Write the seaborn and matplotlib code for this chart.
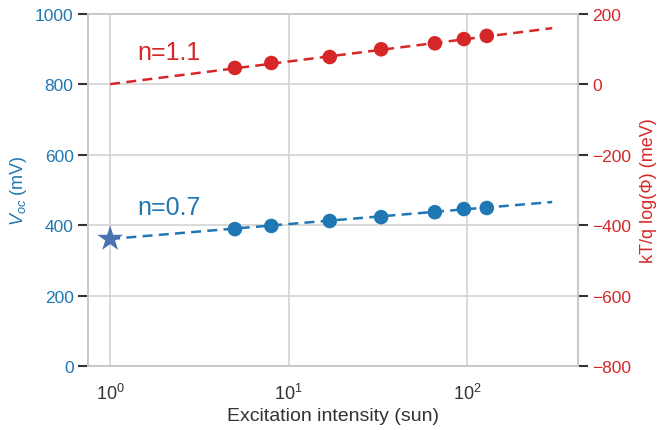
import matplotlib
matplotlib.use("Agg")
import matplotlib.pyplot as plt
import pandas as pd
import seaborn as sns

# --------------------------------------------------
# data
# --------------------------------------------------
intensity = [5, 8, 17, 33, 66, 96, 129]          # sun
voc = [389, 398, 412, 423, 437, 446, 449]         # mV
kt_log_phi = [47, 61, 78, 100, 117, 129, 138]     # meV

one_sun_x = [1]
one_sun_voc = [361]

fit_x = [1, 300]
voc_fit = [361, 466]
phi_fit = [1, 160]

BLUE = "#1f77b4"
RED = "#d62728"
STAR = "#4c72b0"

sns.set_theme(style="whitegrid")
plt.rcParams["font.family"] = ["Liberation Sans", "DejaVu Sans"]
plt.rcParams["mathtext.fontset"] = "custom"
plt.rcParams["mathtext.rm"] = "Liberation Sans"
plt.rcParams["mathtext.it"] = "Liberation Sans:italic"

pts = pd.DataFrame({"x": intensity, "voc": voc, "phi": kt_log_phi})
fit = pd.DataFrame({"x": fit_x, "voc": voc_fit, "phi": phi_fit})

fig = plt.figure(figsize=(6.58, 4.31), dpi=100)
ax = fig.add_axes([0.134, 0.1485, 0.744, 0.8165])
ax2 = ax.twinx()

# blue: Voc
sns.lineplot(data=fit, x="x", y="voc", ax=ax, color=BLUE, lw=1.8,
             linestyle=(0, (4, 2.5)))
sns.scatterplot(data=pts, x="x", y="voc", ax=ax, color=BLUE, s=110,
                edgecolor="none", zorder=3)
ax.scatter(one_sun_x, one_sun_voc, marker="*", s=380, color=STAR,
           edgecolor="none", zorder=4)

# red: kT/q log(phi)
sns.lineplot(data=fit, x="x", y="phi", ax=ax2, color=RED, lw=1.8,
             linestyle=(0, (4, 2.5)))
sns.scatterplot(data=pts, x="x", y="phi", ax=ax2, color=RED, s=110,
                edgecolor="none", zorder=3)

ax.set_xscale("log")
ax.set_xlim(0.753, 417)
ax.set_ylim(0, 1000)
ax2.set_ylim(-800, 200)
ax.set_yticks([0, 200, 400, 600, 800, 1000])
ax2.set_yticks([-800, -600, -400, -200, 0, 200])
ax.xaxis.set_minor_locator(matplotlib.ticker.NullLocator())
ax2.grid(False)
ax.grid(True, color="#d3d3d3", lw=1.2)

for a in (ax, ax2):
    for s in a.spines.values():
        s.set_color("#c8c8c8")
        s.set_linewidth(1.3)

ax.tick_params(axis="y", colors=BLUE, labelsize=12.5, length=7, width=1.5,
               direction="out", left=True)
ax.tick_params(axis="y", color="#333333")
ax.tick_params(axis="x", labelsize=13, labelcolor="#333333", length=0, pad=12)
ax2.tick_params(axis="y", labelcolor=RED, color="#333333", labelsize=12.5,
                length=7, width=1.5, direction="out", right=True)

ax.set_xlabel("Excitation intensity (sun)", fontsize=14, color="#333333",
              labelpad=3)
ax.set_ylabel("$V_{oc}$ (mV)", fontsize=13, color=BLUE, labelpad=4)
ax2.set_ylabel("kT/q log(\u03a6) (meV)", fontsize=13, color=RED, labelpad=6)

ax.text(1.42, 872, "n=1.1", color=RED, fontsize=18, va="baseline")
ax.text(1.42, 432, "n=0.7", color=BLUE, fontsize=18, va="baseline")

fig.savefig("out.png", dpi=100)
